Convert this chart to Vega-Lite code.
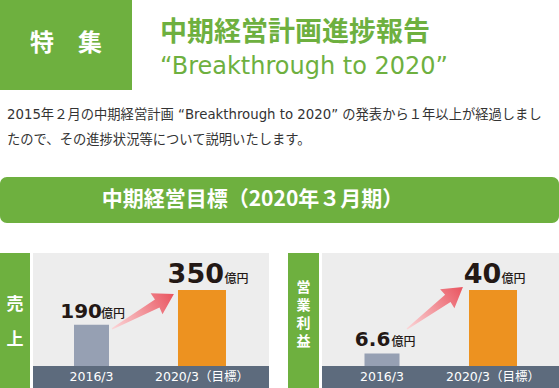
{
  "$schema": "https://vega.github.io/schema/vega-lite/v6.json",
  "padding": 0,
  "background": "#ffffff",
  "config": {"view": {"stroke": null}},
  "spacing": 18,
  "vconcat": [
    {
      "spacing": 27.5,
      "hconcat": [
        {
          "width": 132, "height": 90,
          "view": {"fill": "#6eb03f", "stroke": null},
          "data": {"values": [{"t": "特　集"}]},
          "mark": {"type": "text", "font": "Noto Sans CJK JP", "fontSize": 24, "fontWeight": "bold", "color": "#ffffff", "baseline": "middle", "dy": -1},
          "encoding": {"text": {"field": "t", "type": "nominal"}}
        },
        {
          "width": 1, "height": 90,
          "data": {"values": [{"line": "main", "t": "中期経営計画進捗報告"}, {"line": "sub", "t": "“Breakthrough to 2020”"}]},
          "encoding": {
            "y": {"field": "line", "type": "nominal", "scale": {"type": "point", "domain": ["main", "sub"], "padding": 0.872, "align": 0.7255}, "axis": null},
            "text": {"field": "t", "type": "nominal"}
          },
          "layer": [
            {"transform": [{"filter": "datum.line === 'main'"}], "mark": {"type": "text", "align": "left", "baseline": "alphabetic", "font": "Noto Sans CJK JP", "fontSize": 27, "fontWeight": "bold", "color": "#6eb03f"}},
            {"transform": [{"filter": "datum.line === 'sub'"}], "mark": {"type": "text", "align": "left", "baseline": "alphabetic", "font": "DejaVu Sans", "fontSize": 24, "color": "#6eb03f"}}
          ]
        }
      ]
    },
    {
      "spacing": 30,
      "vconcat": [
        {
          "width": 559, "height": 46,
          "view": {"fill": "#6eb03f", "stroke": null, "cornerRadius": 7},
          "title": {
            "text": ["2015年２月の中期経営計画 “Breakthrough to 2020” の発表から１年以上が経過しまし", "たので、その進捗状況等について説明いたします。"],
            "anchor": "start", "frame": "group", "dx": 7, "offset": 31,
            "fontSize": 13.3, "fontWeight": "normal", "font": "DejaVu Sans, Noto Sans CJK JP", "color": "#333333", "lineHeight": 24.5
          },
          "data": {"values": [{"t": "中期経営目標（2020年３月期）"}]},
          "mark": {"type": "text", "font": "Noto Sans CJK JP", "fontSize": 21, "fontWeight": "bold", "color": "#ffffff", "baseline": "middle", "dx": -27},
          "encoding": {"text": {"field": "t", "type": "nominal"}}
        },
        {
          "spacing": 19,
          "hconcat": [
            {
              "spacing": 3,
              "hconcat": [
                {
                  "width": 30, "height": 135,
                  "view": {"fill": "#6eb03f", "stroke": null},
                  "data": {"values": [{"t": "売\n上"}]},
                  "mark": {"type": "text", "lineBreak": "\n", "lineHeight": 35, "font": "Noto Sans CJK JP", "fontSize": 17, "fontWeight": "bold", "color": "#ffffff", "baseline": "middle", "dy": -15.5},
                  "encoding": {"text": {"field": "t", "type": "nominal"}}
                },
                {
                  "width": 236, "height": 135,
                  "view": {"fill": "#ededed", "stroke": null},
                  "data": {"values": [{"period": "2016/3", "value": 190}, {"period": "2020/3（目標）", "value": 350}]},
                  "layer": [
                    {
                      "mark": {"type": "rect", "color": "#5d6b7d"},
                      "encoding": {
                        "y": {"datum": -101.3, "type": "quantitative", "scale": {"domain": [-101.3, 520.4], "nice": false, "zero": false}, "axis": null},
                        "y2": {"datum": 0}
                      }
                    },
                    {
                      "mark": {"type": "bar"},
                      "encoding": {
                        "x": {"field": "period", "type": "nominal", "scale": {"type": "band", "domain": ["2016/3", "2020/3（目標）"], "paddingInner": 0, "paddingOuter": 0.068, "align": 0.217}, "axis": null},
                        "y": {"field": "value", "type": "quantitative", "scale": {"domain": [-101.3, 520.4], "nice": false, "zero": false}, "axis": null},
                        "color": {"field": "period", "type": "nominal", "scale": {"domain": ["2016/3", "2020/3（目標）"], "range": ["#96a0b3", "#ed9220"]}, "legend": null},
                        "size": {"field": "period", "type": "nominal", "scale": {"domain": ["2016/3", "2020/3（目標）"], "range": [35, 48]}, "legend": null}
                      }
                    },
                    {
                      "mark": {"type": "text", "color": "#ffffff", "font": "DejaVu Sans, Noto Sans CJK JP", "fontSize": 12.5, "baseline": "middle"},
                      "encoding": {
                        "x": {"field": "period", "type": "nominal", "axis": null},
                        "y": {"datum": -50.65, "type": "quantitative", "axis": null},
                        "text": {"field": "period", "type": "nominal"}
                      }
                    },
                    {
                      "transform": [{"filter": "datum.period === '2016/3'"}],
                      "mark": {"type": "text", "align": "right", "baseline": "alphabetic", "dx": 10.5, "dy": -7, "font": "DejaVu Sans", "fontWeight": "bold", "fontSize": 20, "color": "#231815"},
                      "encoding": {
                        "x": {"field": "period", "type": "nominal", "axis": null},
                        "y": {"field": "value", "type": "quantitative", "axis": null},
                        "text": {"field": "value", "type": "nominal"}
                      }
                    },
                    {
                      "transform": [{"filter": "datum.period !== '2016/3'"}],
                      "mark": {"type": "text", "align": "right", "baseline": "alphabetic", "dx": 22, "dy": -7, "font": "DejaVu Sans", "fontWeight": "bold", "fontSize": 27, "color": "#231815"},
                      "encoding": {
                        "x": {"field": "period", "type": "nominal", "axis": null},
                        "y": {"field": "value", "type": "quantitative", "axis": null},
                        "text": {"field": "value", "type": "nominal"}
                      }
                    },
                    {
                      "transform": [{"filter": "datum.period === '2016/3'"}],
                      "mark": {"type": "text", "text": "億円", "align": "left", "baseline": "alphabetic", "dx": 9.5, "dy": -7, "font": "Noto Sans CJK JP", "fontWeight": 500, "fontSize": 12, "color": "#231815"},
                      "encoding": {
                        "x": {"field": "period", "type": "nominal", "axis": null},
                        "y": {"field": "value", "type": "quantitative", "axis": null}
                      }
                    },
                    {
                      "transform": [{"filter": "datum.period !== '2016/3'"}],
                      "mark": {"type": "text", "text": "億円", "align": "left", "baseline": "alphabetic", "dx": 22.5, "dy": -7, "font": "Noto Sans CJK JP", "fontWeight": 500, "fontSize": 12, "color": "#231815"},
                      "encoding": {
                        "x": {"field": "period", "type": "nominal", "axis": null},
                        "y": {"field": "value", "type": "quantitative", "axis": null}
                      }
                    },
                    {
                      "data": {"values": [{"arrow": "growth"}]},
                      "mark": {
                        "type": "point", "shape": "M-1,-0.02L0.46,-0.13L0.44,-0.34L1,0L0.44,0.34L0.46,0.13L-1,0.02Z",
                        "size": 5041, "angle": -29.4, "filled": true, "opacity": 1, "strokeWidth": 0,
                        "fill": {"gradient": "linear", "x1": 0, "y1": 0, "x2": 1, "y2": 0, "stops": [{"offset": 0, "color": "#fbd6d8"}, {"offset": 1, "color": "#e9545f"}]}
                      },
                      "encoding": {
                        "x": {"datum": "2016/3", "type": "nominal", "bandPosition": 0.966, "axis": null},
                        "y": {"datum": 251, "type": "quantitative", "axis": null}
                      }
                    }
                  ]
                }
              ]
            },
            {
              "spacing": 3,
              "hconcat": [
                {
                  "width": 31, "height": 135,
                  "view": {"fill": "#6eb03f", "stroke": null},
                  "data": {"values": [{"t": "営\n業\n利\n益"}]},
                  "mark": {"type": "text", "lineBreak": "\n", "lineHeight": 18, "font": "Noto Sans CJK JP", "fontSize": 14, "fontWeight": "bold", "color": "#ffffff", "baseline": "middle", "dy": -33},
                  "encoding": {"text": {"field": "t", "type": "nominal"}}
                },
                {
                  "width": 237, "height": 135,
                  "view": {"fill": "#ededed", "stroke": null},
                  "data": {"values": [{"period": "2016/3", "value": 6.6}, {"period": "2020/3（目標）", "value": 40}]},
                  "layer": [
                    {
                      "mark": {"type": "rect", "color": "#5d6b7d"},
                      "encoding": {
                        "y": {"datum": -11.58, "type": "quantitative", "scale": {"domain": [-11.58, 59.47], "nice": false, "zero": false}, "axis": null},
                        "y2": {"datum": 0}
                      }
                    },
                    {
                      "mark": {"type": "bar"},
                      "encoding": {
                        "x": {"field": "period", "type": "nominal", "scale": {"type": "band", "domain": ["2016/3", "2020/3（目標）"], "paddingInner": 0, "paddingOuter": 0.0676, "align": 0.3}, "axis": null},
                        "y": {"field": "value", "type": "quantitative", "scale": {"domain": [-11.58, 59.47], "nice": false, "zero": false}, "axis": null},
                        "color": {"field": "period", "type": "nominal", "scale": {"domain": ["2016/3", "2020/3（目標）"], "range": ["#96a0b3", "#ed9220"]}, "legend": null},
                        "size": {"field": "period", "type": "nominal", "scale": {"domain": ["2016/3", "2020/3（目標）"], "range": [34, 48]}, "legend": null}
                      }
                    },
                    {
                      "mark": {"type": "text", "color": "#ffffff", "font": "DejaVu Sans, Noto Sans CJK JP", "fontSize": 12.5, "baseline": "middle"},
                      "encoding": {
                        "x": {"field": "period", "type": "nominal", "axis": null},
                        "y": {"datum": -5.79, "type": "quantitative", "axis": null},
                        "text": {"field": "period", "type": "nominal"}
                      }
                    },
                    {
                      "transform": [{"filter": "datum.period === '2016/3'"}],
                      "mark": {"type": "text", "align": "right", "baseline": "alphabetic", "dx": 8.3, "dy": -7, "font": "DejaVu Sans", "fontWeight": "bold", "fontSize": 20, "color": "#231815"},
                      "encoding": {
                        "x": {"field": "period", "type": "nominal", "axis": null},
                        "y": {"field": "value", "type": "quantitative", "axis": null},
                        "text": {"field": "value", "type": "nominal"}
                      }
                    },
                    {
                      "transform": [{"filter": "datum.period !== '2016/3'"}],
                      "mark": {"type": "text", "align": "right", "baseline": "alphabetic", "dx": 8.3, "dy": -7, "font": "DejaVu Sans", "fontWeight": "bold", "fontSize": 27, "color": "#231815"},
                      "encoding": {
                        "x": {"field": "period", "type": "nominal", "axis": null},
                        "y": {"field": "value", "type": "quantitative", "axis": null},
                        "text": {"field": "value", "type": "nominal"}
                      }
                    },
                    {
                      "transform": [{"filter": "datum.period === '2016/3'"}],
                      "mark": {"type": "text", "text": "億円", "align": "left", "baseline": "alphabetic", "dx": 9.5, "dy": -7, "font": "Noto Sans CJK JP", "fontWeight": 500, "fontSize": 12, "color": "#231815"},
                      "encoding": {
                        "x": {"field": "period", "type": "nominal", "axis": null},
                        "y": {"field": "value", "type": "quantitative", "axis": null}
                      }
                    },
                    {
                      "transform": [{"filter": "datum.period !== '2016/3'"}],
                      "mark": {"type": "text", "text": "億円", "align": "left", "baseline": "alphabetic", "dx": 8.5, "dy": -7, "font": "Noto Sans CJK JP", "fontWeight": 500, "fontSize": 12, "color": "#231815"},
                      "encoding": {
                        "x": {"field": "period", "type": "nominal", "axis": null},
                        "y": {"field": "value", "type": "quantitative", "axis": null}
                      }
                    },
                    {
                      "data": {"values": [{"arrow": "growth"}]},
                      "mark": {
                        "type": "point", "shape": "M-1,-0.02L0.46,-0.13L0.44,-0.34L1,0L0.44,0.34L0.46,0.13L-1,0.02Z",
                        "size": 4900, "angle": -36.9, "filled": true, "opacity": 1, "strokeWidth": 0,
                        "fill": {"gradient": "linear", "x1": 0, "y1": 0, "x2": 1, "y2": 0, "stops": [{"offset": 0, "color": "#fbd6d8"}, {"offset": 1, "color": "#e9545f"}]}
                      },
                      "encoding": {
                        "x": {"datum": "2016/3", "type": "nominal", "bandPosition": 0.977, "axis": null},
                        "y": {"datum": 30.5, "type": "quantitative", "axis": null}
                      }
                    }
                  ]
                }
              ]
            }
          ]
        }
      ]
    }
  ]
}
